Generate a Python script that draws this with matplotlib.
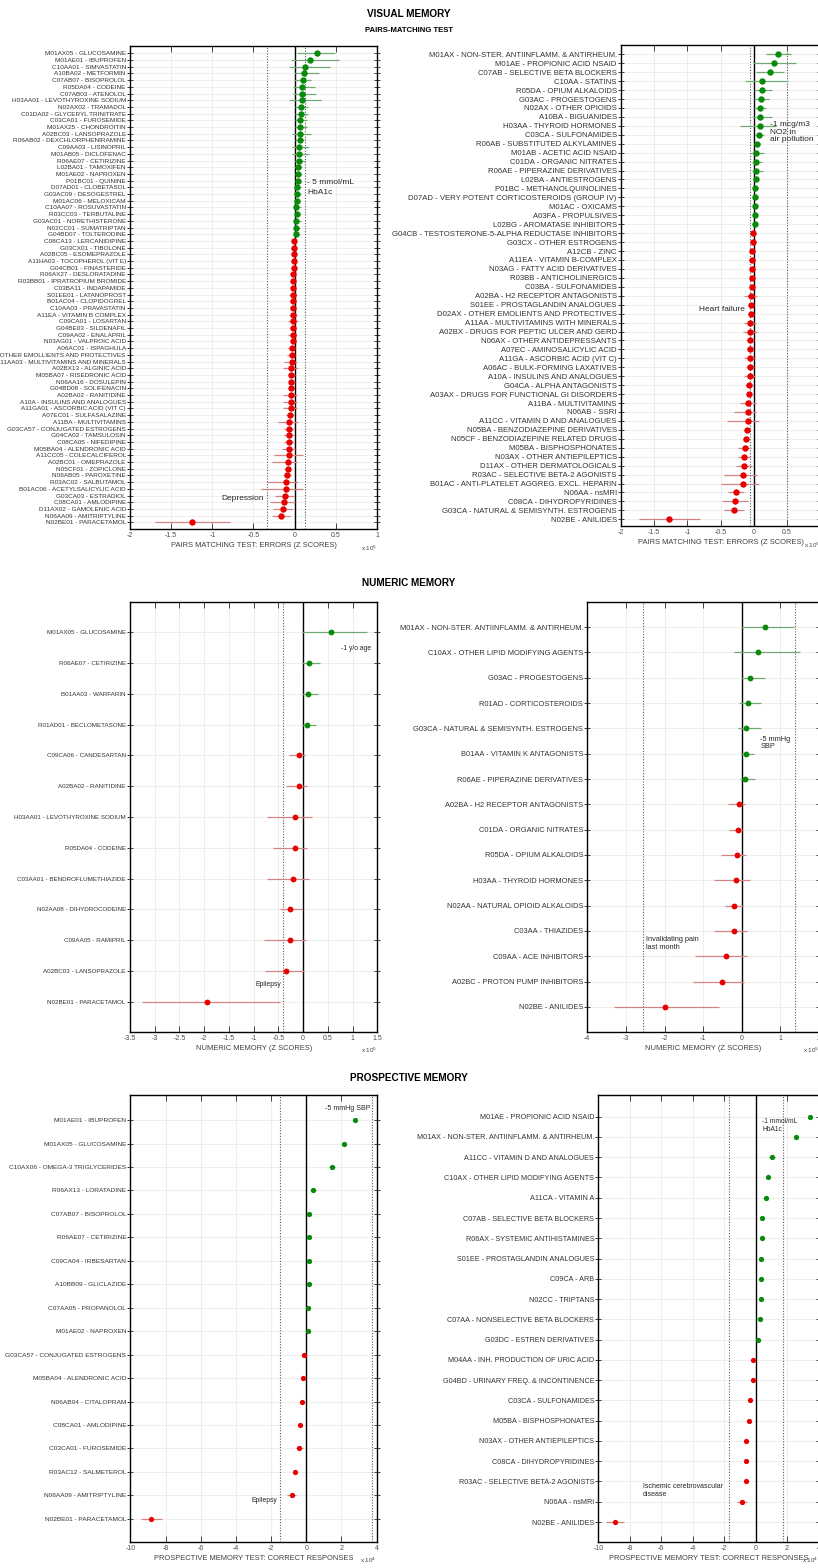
import matplotlib
matplotlib.use("Agg")
import matplotlib.pyplot as plt
import matplotlib.ticker as mticker
import numpy as np

plt.rcParams['font.family'] = ['Liberation Sans', 'DejaVu Sans']
plt.rcParams['axes.unicode_minus'] = False

W, H = 818, 1568

# ---------------- visual memory: individual drugs ----------------
vis_drug_labels = [
    "M01AX05 - GLUCOSAMINE", "M01AE01 - IBUPROFEN", "C10AA01 - SIMVASTATIN", "A10BA02 - METFORMIN",
    "C07AB07 - BISOPROLOL", "R05DA04 - CODEINE", "C07AB03 - ATENOLOL", "H03AA01 - LEVOTHYROXINE SODIUM",
    "N02AX02 - TRAMADOL", "C01DA02 - GLYCERYL TRINITRATE", "C03CA01 - FUROSEMIDE", "M01AX25 - CHONDROITIN",
    "A02BC03 - LANSOPRAZOLE", "R06AB02 - DEXCHLORPHENIRAMINE", "C09AA03 - LISINOPRIL", "M01AB05 - DICLOFENAC",
    "R06AE07 - CETIRIZINE", "L02BA01 - TAMOXIFEN", "M01AE02 - NAPROXEN", "P01BC01 - QUININE",
    "D07AD01 - CLOBETASOL", "G03AC09 - DESOGESTREL", "M01AC06 - MELOXICAM", "C10AA07 - ROSUVASTATIN",
    "R03CC03 - TERBUTALINE", "G03AC01 - NORETHISTERONE", "N02CC01 - SUMATRIPTAN", "G04BD07 - TOLTERODINE",
    "C08CA13 - LERCANIDIPINE", "G03CX01 - TIBOLONE", "A02BC05 - ESOMEPRAZOLE", "A11HA03 - TOCOPHEROL (VIT E)",
    "G04CB01 - FINASTERIDE", "R06AX27 - DESLORATADINE", "R03BB01 - IPRATROPIUM BROMIDE", "C03BA11 - INDAPAMIDE",
    "S01EE01 - LATANOPROST", "B01AC04 - CLOPIDOGREL", "C10AA03 - PRAVASTATIN", "A11EA - VITAMIN B COMPLEX",
    "C09CA01 - LOSARTAN", "G04BE03 - SILDENAFIL", "C09AA02 - ENALAPRIL", "N03AG01 - VALPROIC ACID",
    "A06AC01 - ISPAGHULA", "D02AX - OTHER EMOLLIENTS AND PROTECTIVES", "A11AA03 - MULTIVITAMINS AND MINERALS",
    "A02BX13 - ALGINIC ACID", "M05BA07 - RISEDRONIC ACID", "N06AA16 - DOSULEPIN", "G04BD08 - SOLIFENACIN",
    "A02BA02 - RANITIDINE", "A10A - INSULINS AND ANALOGUES", "A11GA01 - ASCORBIC ACID (VIT C)",
    "A07EC01 - SULFASALAZINE", "A11BA - MULTIVITAMINS", "G03CA57 - CONJUGATED ESTROGENS", "G04CA02 - TAMSULOSIN",
    "C08CA05 - NIFEDIPINE", "M05BA04 - ALENDRONIC ACID", "A11CC05 - COLECALCIFEROL", "A02BC01 - OMEPRAZOLE",
    "N05CF01 - ZOPICLONE", "N06AB05 - PAROXETINE", "R03AC02 - SALBUTAMOL", "B01AC06 - ACETYLSALICYLIC ACID",
    "G03CA03 - ESTRADIOL", "C08CA01 - AMLODIPINE", "D11AX02 - GAMOLENIC ACID", "N06AA09 - AMITRIPTYLINE",
    "N02BE01 - PARACETAMOL",
]
vis_drug_est = [
    0.27, 0.19, 0.12, 0.11, 0.10, 0.09, 0.09, 0.09, 0.08, 0.08, 0.07, 0.07, 0.06, 0.06, 0.05, 0.05,
    0.05, 0.04, 0.04, 0.04, 0.03, 0.03, 0.03, 0.02, 0.03, 0.02, 0.02, 0.02, -0.01, -0.01, -0.01, -0.01,
    -0.01, -0.02, -0.02, -0.02, -0.02, -0.02, -0.02, -0.02, -0.02, -0.02, -0.02, -0.02, -0.03, -0.03,
    -0.03, -0.04, -0.04, -0.04, -0.04, -0.04, -0.05, -0.05, -0.06, -0.065, -0.07, -0.07, -0.07, -0.07,
    -0.07, -0.085, -0.085, -0.09, -0.10, -0.105, -0.12, -0.13, -0.14, -0.17, -1.25,
]
vis_drug_lo = [
    0.03, -0.04, -0.07, -0.01, -0.01, -0.02, -0.02, -0.07, 0.01, 0.01, 0.01, 0.01, -0.03, 0.01, -0.03, -0.03,
    -0.01, 0.00, 0.00, 0.00, 0.00, 0.00, 0.00, 0.00, 0.00, -0.01, 0.00, 0.00, -0.04, -0.04, -0.04, -0.05,
    -0.04, -0.04, -0.05, -0.05, -0.07, -0.07, -0.06, -0.07, -0.08, -0.06, -0.08, -0.06, -0.08, -0.09,
    -0.13, -0.14, -0.07, -0.07, -0.07, -0.14, -0.14, -0.14, -0.10, -0.20, -0.13, -0.13, -0.13, -0.15,
    -0.25, -0.28, -0.13, -0.14, -0.33, -0.41, -0.24, -0.30, -0.26, -0.28, -1.70,
]
vis_drug_hi = [
    0.49, 0.54, 0.43, 0.29, 0.20, 0.25, 0.26, 0.32, 0.16, 0.16, 0.15, 0.15, 0.20, 0.11, 0.17, 0.17,
    0.13, 0.09, 0.08, 0.08, 0.08, 0.08, 0.06, 0.08, 0.07, 0.08, 0.07, 0.06, 0.02, 0.02, 0.02, 0.02,
    0.02, 0.01, 0.01, 0.01, 0.03, 0.02, 0.02, 0.03, 0.04, 0.02, 0.03, 0.02, 0.01, 0.01,
    0.03, 0.04, 0.00, 0.00, -0.01, 0.03, 0.03, 0.03, -0.01, 0.04, -0.01, -0.01, -0.01, 0.00,
    0.10, 0.03, -0.04, -0.04, 0.04, 0.10, -0.01, 0.01, -0.02, -0.06, -0.78,
]

# ---------------- visual memory: drug classes ----------------
vis_class_labels = [
    "M01AX - NON-STER. ANTIINFLAMM. & ANTIRHEUM.", "M01AE - PROPIONIC ACID NSAID", "C07AB - SELECTIVE BETA BLOCKERS",
    "C10AA - STATINS", "R05DA - OPIUM ALKALOIDS", "G03AC - PROGESTOGENS", "N02AX - OTHER OPIOIDS",
    "A10BA - BIGUANIDES", "H03AA - THYROID HORMONES", "C03CA - SULFONAMIDES", "R06AB - SUBSTITUTED ALKYLAMINES",
    "M01AB - ACETIC ACID NSAID", "C01DA - ORGANIC NITRATES", "R06AE - PIPERAZINE DERIVATIVES",
    "L02BA - ANTIESTROGENS", "P01BC - METHANOLQUINOLINES", "D07AD - VERY POTENT CORTICOSTEROIDS (GROUP IV)",
    "M01AC - OXICAMS", "A03FA - PROPULSIVES", "L02BG - AROMATASE INHIBITORS",
    "G04CB - TESTOSTERONE-5-ALPHA REDUCTASE INHIBITORS", "G03CX - OTHER ESTROGENS", "A12CB - ZINC",
    "A11EA - VITAMIN B-COMPLEX", "N03AG - FATTY ACID DERIVATIVES", "R03BB - ANTICHOLINERGICS",
    "C03BA - SULFONAMIDES", "A02BA - H2 RECEPTOR ANTAGONISTS", "S01EE - PROSTAGLANDIN ANALOGUES",
    "D02AX - OTHER EMOLIENTS AND PROTECTIVES", "A11AA - MULTIVITAMINS WITH MINERALS",
    "A02BX - DRUGS FOR PEPTIC ULCER AND GERD", "N06AX - OTHER ANTIDEPRESSANTS", "A07EC - AMINOSALICYLIC ACID",
    "A11GA - ASCORBIC ACID (VIT C)", "A06AC - BULK-FORMING LAXATIVES", "A10A - INSULINS AND ANALOGUES",
    "G04CA - ALPHA ANTAGONISTS", "A03AX - DRUGS FOR FUNCTIONAL GI DISORDERS", "A11BA - MULTIVITAMINS",
    "N06AB - SSRI", "A11CC - VITAMIN D AND ANALOGUES", "N05BA - BENZODIAZEPINE DERIVATIVES",
    "N05CF - BENZODIAZEPINE RELATED DRUGS", "M05BA - BISPHOSPHONATES", "N03AX - OTHER ANTIEPILEPTICS",
    "D11AX - OTHER DERMATOLOGICALS", "R03AC - SELECTIVE BETA-2 AGONISTS",
    "B01AC - ANTI-PLATELET AGGREG. EXCL. HEPARIN", "N06AA - nsMRI", "C08CA - DIHYDROPYRIDINES",
    "G03CA - NATURAL & SEMISYNTH. ESTROGENS", "N02BE - ANILIDES",
]
vis_class_est = [
    0.37, 0.30, 0.24, 0.13, 0.12, 0.11, 0.10, 0.10, 0.09, 0.08, 0.05, 0.04, 0.04, 0.04, 0.03, 0.025,
    0.025, 0.015, 0.015, 0.015, -0.015, -0.015, -0.02, -0.025, -0.03, -0.03, -0.03, -0.04, -0.04, -0.04,
    -0.05, -0.05, -0.055, -0.055, -0.06, -0.06, -0.06, -0.07, -0.075, -0.08, -0.085, -0.09, -0.10, -0.11,
    -0.13, -0.14, -0.14, -0.155, -0.16, -0.26, -0.28, -0.30, -1.28,
]
vis_class_lo = [
    0.18, -0.01, 0.03, -0.13, 0.00, 0.00, 0.01, -0.03, -0.21, 0.02, 0.01, -0.05, -0.02, -0.03, -0.01, -0.01,
    -0.01, -0.01, -0.015, -0.02, -0.045, -0.05, -0.075, -0.075, -0.07, -0.075, -0.07, -0.14, -0.085, -0.085,
    -0.14, -0.16, -0.11, -0.10, -0.15, -0.12, -0.15, -0.135, -0.12, -0.21, -0.29, -0.40, -0.15, -0.16,
    -0.23, -0.23, -0.27, -0.45, -0.49, -0.38, -0.48, -0.44, -1.73,
]
vis_class_hi = [
    0.56, 0.64, 0.45, 0.52, 0.28, 0.23, 0.19, 0.27, 0.34, 0.15, 0.10, 0.16, 0.13, 0.14, 0.08, 0.07,
    0.06, 0.05, 0.05, 0.05, 0.015, 0.015, 0.015, 0.025, 0.005, 0.015, 0.005, 0.05, 0.0, 0.0,
    0.035, 0.045, 0.01, -0.01, 0.015, 0.0, 0.015, -0.015, -0.025, 0.04, 0.04, 0.085, -0.05, -0.05,
    -0.035, -0.05, -0.025, 0.05, 0.075, -0.14, -0.08, -0.15, -0.81,
]

# ---------------- numeric memory ----------------
num_drug_labels = [
    "M01AX05 - GLUCOSAMINE", "R06AE07 - CETIRIZINE", "B01AA03 - WARFARIN", "R01AD01 - BECLOMETASONE",
    "C09CA06 - CANDESARTAN", "A02BA02 - RANITIDINE", "H03AA01 - LEVOTHYROXINE SODIUM", "R05DA04 - CODEINE",
    "C03AA01 - BENDROFLUMETHIAZIDE", "N02AA08 - DIHYDROCODEINE", "C09AA05 - RAMIPRIL",
    "A02BC03 - LANSOPRAZOLE", "N02BE01 - PARACETAMOL",
]
num_drug_est = [0.57, 0.11, 0.09, 0.07, -0.08, -0.08, -0.16, -0.17, -0.21, -0.26, -0.27, -0.34, -1.95]
num_drug_lo = [-0.03, -0.03, -0.03, -0.03, -0.28, -0.35, -0.73, -0.61, -0.73, -0.47, -0.79, -0.77, -3.25]
num_drug_hi = [1.29, 0.35, 0.31, 0.26, 0.04, 0.07, 0.18, 0.08, 0.11, -0.02, 0.06, 0.01, -0.46]

num_class_labels = [
    "M01AX - NON-STER. ANTIINFLAMM. & ANTIRHEUM.", "C10AX - OTHER LIPID MODIFYING AGENTS",
    "G03AC - PROGESTOGENS", "R01AD - CORTICOSTEROIDS", "G03CA - NATURAL & SEMISYNTH. ESTROGENS",
    "B01AA - VITAMIN K ANTAGONISTS", "R06AE - PIPERAZINE DERIVATIVES", "A02BA - H2 RECEPTOR ANTAGONISTS",
    "C01DA - ORGANIC NITRATES", "R05DA - OPIUM ALKALOIDS", "H03AA - THYROID HORMONES",
    "N02AA - NATURAL OPIOID ALKALOIDS", "C03AA - THIAZIDES", "C09AA - ACE INHIBITORS",
    "A02BC - PROTON PUMP INHIBITORS", "N02BE - ANILIDES",
]
num_class_est = [0.60, 0.42, 0.22, 0.16, 0.12, 0.10, 0.095, -0.08, -0.11, -0.13, -0.155, -0.19, -0.20,
                 -0.40, -0.50, -2.00]
num_class_lo = [-0.03, -0.21, -0.03, -0.06, -0.10, -0.03, -0.05, -0.35, -0.34, -0.54, -0.71, -0.44, -0.73,
                -1.21, -1.26, -3.32]
num_class_hi = [1.36, 1.52, 0.60, 0.49, 0.49, 0.31, 0.34, 0.095, 0.03, 0.11, 0.21, 0.02, 0.14,
                0.13, 0.06, -0.58]

# ---------------- prospective memory ----------------
pro_drug_labels = [
    "M01AE01 - IBUPROFEN", "M01AX05 - GLUCOSAMINE", "C10AX06 - OMEGA-3 TRIGLYCERIDES", "R06AX13 - LORATADINE",
    "C07AB07 - BISOPROLOL", "R06AE07 - CETIRIZINE", "C09CA04 - IRBESARTAN", "A10BB09 - GLICLAZIDE",
    "C07AA05 - PROPANOLOL", "M01AE02 - NAPROXEN", "G03CA57 - CONJUGATED ESTROGENS", "M05BA04 - ALENDRONIC ACID",
    "N06AB04 - CITALOPRAM", "C08CA01 - AMLODIPINE", "C03CA01 - FUROSEMIDE", "R03AC12 - SALMETEROL",
    "N06AA09 - AMITRIPTYLINE", "N02BE01 - PARACETAMOL",
]
pro_drug_est = [2.79, 2.16, 1.48, 0.39, 0.18, 0.18, 0.18, 0.15, 0.12, 0.12, -0.12, -0.18, -0.24, -0.33,
                -0.39, -0.62, -0.83, -8.83]
pro_drug_lo = [2.72, 2.09, 1.30, 0.20, 0.10, 0.10, 0.10, 0.07, 0.04, 0.04, -0.20, -0.26, -0.32, -0.41,
               -0.59, -0.70, -1.07, -9.39]
pro_drug_hi = [2.86, 2.23, 1.66, 0.58, 0.26, 0.26, 0.26, 0.23, 0.20, 0.20, -0.04, -0.10, -0.16, -0.25,
               -0.19, -0.54, -0.59, -8.18]

pro_class_labels = [
    "M01AE - PROPIONIC ACID NSAID", "M01AX - NON-STER. ANTIINFLAMM. & ANTIRHEUM.",
    "A11CC - VITAMIN D AND ANALOGUES", "C10AX - OTHER LIPID MODIFYING AGENTS", "A11CA - VITAMIN A",
    "C07AB - SELECTIVE BETA BLOCKERS", "R06AX - SYSTEMIC ANTIHISTAMINES", "S01EE - PROSTAGLANDIN ANALOGUES",
    "C09CA - ARB", "N02CC - TRIPTANS", "C07AA - NONSELECTIVE BETA BLOCKERS", "G03DC - ESTREN DERIVATIVES",
    "M04AA - INH. PRODUCTION OF URIC ACID", "G04BD - URINARY FREQ. & INCONTINENCE", "C03CA - SULFONAMIDES",
    "M05BA - BISPHOSPHONATES", "N03AX - OTHER ANTIEPILEPTICS", "C08CA - DIHYDROPYRIDINES",
    "R03AC - SELECTIVE BETA-2 AGONISTS", "N06AA - nsMRI", "N02BE - ANILIDES",
]
pro_class_est = [3.44, 2.55, 1.06, 0.76, 0.66, 0.43, 0.43, 0.36, 0.36, 0.33, 0.30, 0.17, -0.17, -0.17,
                 -0.36, -0.43, -0.60, -0.60, -0.63, -0.86, -8.91]
pro_class_lo = [3.34, 2.50, 0.86, 0.66, 0.56, 0.35, 0.33, 0.26, 0.28, 0.25, 0.18, 0.07, -0.27, -0.25,
                -0.46, -0.55, -0.72, -0.70, -0.71, -1.16, -9.50]
pro_class_hi = [3.54, 2.60, 1.26, 0.86, 0.76, 0.51, 0.53, 0.46, 0.44, 0.41, 0.42, 0.27, -0.07, -0.09,
                -0.26, -0.31, -0.48, -0.50, -0.55, -0.56, -8.34]


def box(l, r, t, b):
    return [l / W, 1 - b / H, (r - l) / W, (b - t) / H]


def panel(ax, labels, est, lo, hi, xlim, xticks, vlines, fs, ms, ylim, xlabel, expo):
    y = np.arange(1, len(labels) + 1)
    est = np.array(est)
    lo = np.array(lo)
    hi = np.array(hi)
    up = est > 0
    for m, c, ec in [(up, '#0a8a0a', '#72a872'), (~up, '#e80000', '#d48282')]:
        ax.errorbar(est[m], y[m], xerr=[est[m] - lo[m], hi[m] - est[m]], fmt='o', color=c,
                    ecolor=ec, ms=ms, mew=0, elinewidth=0.9, capsize=1.8, capthick=0.9, zorder=3)
    ax.axvline(0, color='k', lw=1.0, zorder=2)
    for v in vlines:
        ax.axvline(v, color='0.35', lw=0.8, ls=(0, (1, 1.5)), zorder=2)
    ax.set_yticks(y)
    ax.set_yticklabels(labels, fontsize=fs)
    ax.set_ylim(*ylim)
    ax.set_xlim(*xlim)
    ax.set_xticks(xticks)
    ax.xaxis.set_major_formatter(mticker.FuncFormatter(lambda v, p: '%g' % v))
    ax.grid(True, color='#ebebeb', lw=0.6)
    ax.set_axisbelow(True)
    ax.tick_params(axis='x', direction='in', top=True, length=4, width=0.7, labelsize=5, pad=2,
                   colors='0.25', labelcolor='0.3')
    ax.tick_params(axis='y', direction='inout', right=True, length=4, width=0.7, pad=1,
                   colors='0.25', labelcolor='0.2')
    for s in ax.spines.values():
        s.set_linewidth(1.0)
    ax.set_xlabel(xlabel, fontsize=5.4, color='0.25', labelpad=2)
    ax.text(1.0, -0.03, 'x 10$^{%d}$' % expo, transform=ax.transAxes, ha='right', va='top',
            fontsize=4.5, color='0.25')


fig = plt.figure(figsize=(W / 100, H / 100), dpi=100)

fig.text(0.5, 1 - 14 / H, 'VISUAL MEMORY', ha='center', va='center', fontsize=7.2, weight='bold')
fig.text(0.5, 1 - 30 / H, 'PAIRS-MATCHING TEST', ha='center', va='center', fontsize=5.6, weight='bold')
fig.text(0.5, 1 - 583 / H, 'NUMERIC MEMORY', ha='center', va='center', fontsize=7.2, weight='bold')
fig.text(0.5, 1 - 1078 / H, 'PROSPECTIVE MEMORY', ha='center', va='center', fontsize=7.2, weight='bold')

ax1 = fig.add_axes(box(130, 377, 46, 529))
panel(ax1, vis_drug_labels, vis_drug_est, vis_drug_lo, vis_drug_hi, (-2, 1), np.arange(-2, 1.01, 0.5),
      [-0.336, 0.12], 4.6, 4.6, (72.0, -0.1), 'PAIRS MATCHING TEST: ERRORS (Z SCORES)', 5)
ax1.text(0.15, 20.3, '- 5 mmol/mL', fontsize=6, va='center', color='0.15')
ax1.text(0.15, 21.8, 'HbA1c', fontsize=6, va='center', color='0.15')
ax1.text(-0.38, 67.4, 'Depression', fontsize=6, va='center', ha='right', color='0.15')

ax2 = fig.add_axes(box(621, 820, 45, 526))
panel(ax2, vis_class_labels, vis_class_est, vis_class_lo, vis_class_hi, (-2, 1), np.arange(-2, 1.01, 0.5),
      [-0.06, 0.5], 5.6, 4.6, (53.75, -0.04), 'PAIRS MATCHING TEST: ERRORS (Z SCORES)', 5)
ax2.text(0.24, 9.7, '-1 mcg/m3\nNO2 in\nair pollution', fontsize=6, va='center', ha='left',
         linespacing=1.1, color='0.15')
ax2.text(-0.14, 29.5, 'Heart failure', fontsize=6, va='center', ha='right', color='0.15')

ax3 = fig.add_axes(box(130, 377.3, 601.7, 1032.3))
panel(ax3, num_drug_labels, num_drug_est, num_drug_lo, num_drug_hi, (-3.5, 1.5), np.arange(-3.5, 1.51, 0.5),
      [-0.40], 4.5, 4.2, (14, 0), 'NUMERIC MEMORY (Z SCORES)', 5)
ax3.text(1.37, 1.52, '-1 y/o age', fontsize=4.9, va='center', ha='right', color='0.15')
ax3.text(-0.44, 12.43, 'Epilepsy', fontsize=4.9, va='center', ha='right', color='0.15')

ax4 = fig.add_axes(box(587.3, 819, 601.7, 1032.3))
panel(ax4, num_class_labels, num_class_est, num_class_lo, num_class_hi, (-4, 2), np.arange(-4, 2.01, 1),
      [-2.56, 1.37], 5.4, 4.2, (17, 0), 'NUMERIC MEMORY (Z SCORES)', 5)
ax4.text(0.48, 5.3, '-5 mmHg\nSBP', fontsize=5.3, va='top', ha='left', linespacing=1.1, color='0.15')
ax4.text(-2.48, 13.2, 'Invalidating pain\nlast month', fontsize=5.3, va='top', ha='left',
         linespacing=1.1, color='0.15')

ax5 = fig.add_axes(box(130.4, 376.6, 1095, 1542.3))
panel(ax5, pro_drug_labels, pro_drug_est, pro_drug_lo, pro_drug_hi, (-10, 4), np.arange(-10, 4.01, 2),
      [-1.51, 3.76], 4.65, 3.8, (19, -0.07), 'PROSPECTIVE MEMORY TEST: CORRECT RESPONSES', 4)
ax5.text(3.64, 0.5, '-5 mmHg SBP', fontsize=5.1, va='center', ha='right', color='0.15')
ax5.text(-1.63, 17.23, 'Epilepsy', fontsize=4.9, va='center', ha='right', color='0.15')

ax6 = fig.add_axes(box(598.3, 818.5, 1095, 1542.3))
panel(ax6, pro_class_labels, pro_class_est, pro_class_lo, pro_class_hi, (-10, 4), np.arange(-10, 4.01, 2),
      [-1.66, 1.75], 5.25, 3.8, (22, -0.07), 'PROSPECTIVE MEMORY TEST: CORRECT RESPONSES', 4)
ax6.text(0.43, 1.05, '-1 mmol/mL\nHbA1c', fontsize=4.8, va='top', ha='left', linespacing=1.2, color='0.15')
ax6.text(-7.15, 19.05, 'Ischemic cerebrovascular\ndisease', fontsize=5.0, va='top', ha='left',
         linespacing=1.3, color='0.15')

fig.savefig('out.png', dpi=100)
